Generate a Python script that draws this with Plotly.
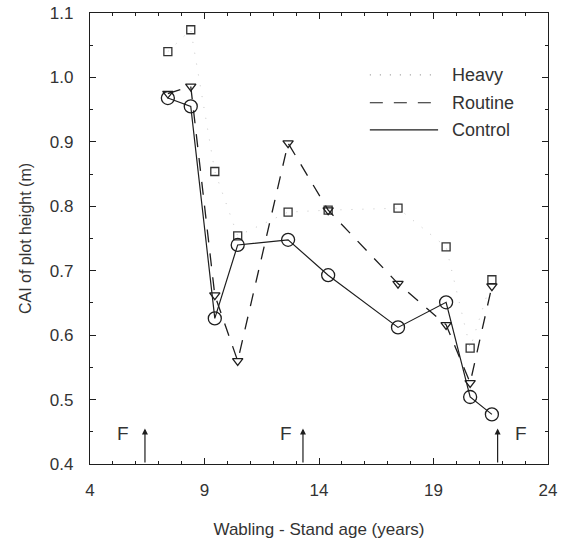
import plotly.graph_objects as go

# Data
ages = [7.4, 8.4, 9.45, 10.45, 12.65, 14.4, 17.45, 19.55, 20.6, 21.55]
heavy = [1.040, 1.074, 0.854, 0.754, 0.791, 0.794, 0.797, 0.737, 0.580, 0.686]
routine = [0.975, 0.986, 0.662, 0.560, 0.898, 0.794, 0.680, 0.616, 0.526, 0.676]
control = [0.968, 0.955, 0.626, 0.740, 0.748, 0.693, 0.612, 0.651, 0.504, 0.477]

fert_years = [6.4, 13.3, 21.8]
fert_label_x = [5.45, 12.55, 22.8]
fert_label = "F"

x_ticks = [4, 9, 14, 19, 24]
y_ticks = [0.4, 0.5, 0.6, 0.7, 0.8, 0.9, 1.0, 1.1]

legend_names = ["Heavy", "Routine", "Control"]

INK = "#1e1e1e"
TXT = "#333333"
FONT = "Liberation Sans, Arial, sans-serif"

fig = go.Figure()

fig.add_trace(go.Scatter(
    x=ages, y=heavy, name="Heavy", mode="lines+markers",
    line=dict(color="#c8c8c8", width=1, dash="1px,10px"),
    marker=dict(symbol="square-open", size=8, color="#333333", line=dict(width=1.3)),
    showlegend=False))

fig.add_trace(go.Scatter(
    x=ages, y=routine, name="Routine", mode="lines+markers",
    line=dict(color=INK, width=1.3, dash="13px,11px"),
    marker=dict(symbol="triangle-down-open", size=9, color=INK, line=dict(width=1.3)),
    showlegend=False))

fig.add_trace(go.Scatter(
    x=ages, y=control, name="Control", mode="lines+markers",
    line=dict(color=INK, width=1.2),
    marker=dict(symbol="circle-open", size=13, color=INK, line=dict(width=1.3)),
    showlegend=False))

# Fertilisation arrows and labels
for fx, lx in zip(fert_years, fert_label_x):
    fig.add_annotation(x=fx, y=0.455, ax=fx, ay=0.4, xref="x", yref="y",
                       axref="x", ayref="y", showarrow=True, arrowhead=2,
                       arrowsize=1, arrowwidth=1.2, arrowcolor=INK, text="")
    fig.add_annotation(x=lx, y=0.448, xref="x", yref="y", text=fert_label,
                       showarrow=False, font=dict(family=FONT, size=19, color=TXT))

# Manual legend (top right, inside the frame)
legend_dash = ["1px,9px", "13px,11px", "solid"]
legend_color = ["#999999", INK, INK]
legend_y = [0.863, 0.801, 0.741]
for name, dash, col, ly in zip(legend_names, legend_dash, legend_color, legend_y):
    fig.add_shape(type="line", xref="paper", yref="paper",
                  x0=0.611, x1=0.76, y0=ly, y1=ly,
                  line=dict(color=col, width=1.2, dash=dash))
    fig.add_annotation(xref="paper", yref="paper", x=0.785, y=ly, xanchor="left",
                       yanchor="middle", text=name, showarrow=False,
                       font=dict(family=FONT, size=18, color=TXT))

axis_common = dict(
    showline=True, linecolor=INK, linewidth=1.3, mirror="ticks",
    ticks="inside", ticklen=6, tickwidth=1, tickcolor=INK,
    showgrid=False, zeroline=False, automargin=False,
    tickfont=dict(family=FONT, size=17, color=TXT),
)

fig.update_xaxes(
    range=[4, 24], tickvals=x_ticks, ticklabelstandoff=10,
    minor=dict(dtick=1, tick0=4, ticks="inside", ticklen=3, tickcolor=INK),
    title=dict(text="Wabling - Stand age (years)", standoff=24,
               font=dict(family=FONT, size=17, color=TXT)),
    **axis_common)

fig.update_yaxes(
    range=[0.4, 1.1], tickvals=y_ticks, tickformat=".1f", ticklabelstandoff=12,
    minor=dict(dtick=0.05, tick0=0.4, ticks="inside", ticklen=3, tickcolor=INK),
    title=dict(text="CAI of plot height (m)", standoff=14,
               font=dict(family=FONT, size=16, color=TXT)),
    **axis_common)

fig.update_layout(
    width=576, height=541,
    margin=dict(l=90, r=28, t=13, b=77),
    paper_bgcolor="white", plot_bgcolor="white",
    font=dict(family=FONT, color=TXT),
    showlegend=False,
)

fig.write_html("out.html")
